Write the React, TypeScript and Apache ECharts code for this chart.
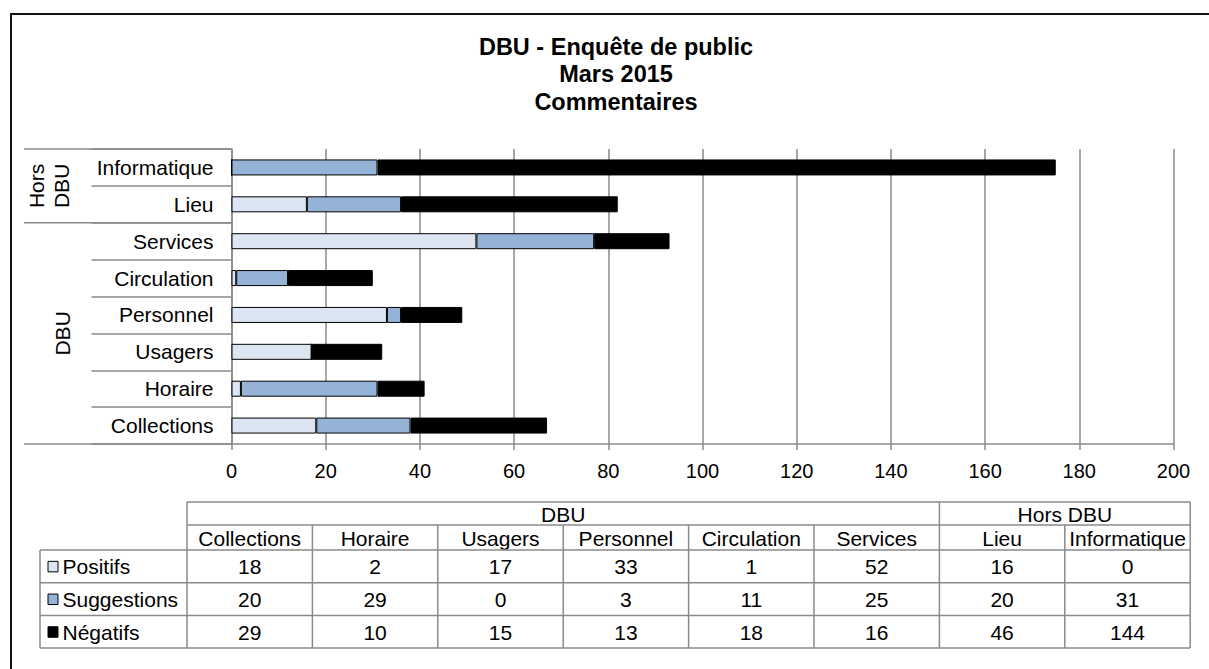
import React, { useEffect, useRef } from "react";
import * as echarts from "echarts";

// ---- Data ----
const categories = ["Collections", "Horaire", "Usagers", "Personnel", "Circulation", "Services", "Lieu", "Informatique"];
const groupLabels = ["DBU", "Hors DBU"];
const groupSizes = [6, 2];
const seriesNames = ["Positifs", "Suggestions", "Négatifs"];
const positifs = [18, 2, 17, 33, 1, 52, 16, 0];
const suggestions = [20, 29, 0, 3, 11, 25, 20, 31];
const negatifs = [29, 10, 15, 13, 18, 16, 46, 144];
const seriesColors = ["#dce6f2", "#95b3d7", "#000000"];
const titleLines = ["DBU - Enquête de public", "Mars 2015", "Commentaires"];
const xMin = 0;
const xMax = 200;
const xInterval = 20;

const FONT = '"Liberation Sans", Arial, Helvetica, sans-serif';
const GRAY = "#8a8a8a";

// layout
const GRID = { left: 231.5, top: 149, width: 942, height: 295 };
const TABLE = { left: 40, labelRight: 187, colW: 125.4, y0: 502, h1: 23, h2: 25, rowH: 32.7 };

function ln(x1: number, y1: number, x2: number, y2: number, stroke = GRAY, w = 1.5) {
  return { type: "line", silent: true, shape: { x1, y1, x2, y2 }, style: { stroke, lineWidth: w } };
}
function txt(x: number, y: number, t: string, align = "center", size = 21) {
  return {
    type: "text",
    silent: true,
    x,
    y,
    style: {
      text: t,
      font: `${size}px ${FONT}`,
      fill: "#000",
      textAlign: align,
      textVerticalAlign: "middle",
    },
  };
}

function buildGraphics() {
  const g: any[] = [];
  // outer frame
  g.push({ type: "rect", silent: true, shape: { x: 11, y: 14, width: 1400, height: 900 }, style: { fill: "none", stroke: "#111", lineWidth: 2 } });

  // multi-level axis group separators & labels
  const n = categories.length;
  const bandH = GRID.height / n;
  const bottom = GRID.top + GRID.height;
  let cum = 0;
  g.push(ln(24, bottom, GRID.left, bottom));
  groupSizes.forEach((sz, gi) => {
    const yStart = bottom - cum * bandH;
    const yEnd = bottom - (cum + sz) * bandH;
    g.push(ln(24, yEnd, GRID.left, yEnd));
    const label = groupLabels[gi].replace(" ", "\n");
    const cx = gi === 0 ? 62 : 49;
    g.push({
      type: "text",
      silent: true,
      x: cx,
      y: (yStart + yEnd) / 2,
      rotation: Math.PI / 2,
      style: { text: label, font: `21px ${FONT}`, fill: "#000", textAlign: "center", textVerticalAlign: "middle", lineHeight: 25 },
    });
    cum += sz;
  });

  // data table
  const cols = categories.length;
  const colX = (i: number) => TABLE.labelRight + i * TABLE.colW;
  const right = colX(cols);
  const yH1 = TABLE.y0;
  const yH2 = yH1 + TABLE.h1;
  const yD = yH2 + TABLE.h2;
  const rowY = (r: number) => yD + r * TABLE.rowH;
  const nRows = seriesNames.length;

  // header row 1
  g.push(ln(TABLE.labelRight, yH1, right, yH1));
  g.push(ln(TABLE.labelRight, yH2, right, yH2));
  let c = 0;
  g.push(ln(colX(0), yH1, colX(0), yH2));
  groupSizes.forEach((sz, gi) => {
    const x0 = colX(c);
    const x1 = colX(c + sz);
    g.push(ln(x1, yH1, x1, yH2));
    g.push(txt((x0 + x1) / 2, (yH1 + yH2) / 2 + 0.5, groupLabels[gi]));
    c += sz;
  });
  // header row 2
  for (let i = 0; i <= cols; i++) g.push(ln(colX(i), yH2, colX(i), yD));
  categories.forEach((cat, i) => g.push(txt((colX(i) + colX(i + 1)) / 2, (yH2 + yD) / 2 + 0.5, cat)));
  // data rows
  for (let r = 0; r <= nRows; r++) g.push(ln(TABLE.left, rowY(r), right, rowY(r)));
  g.push(ln(TABLE.left, yD, TABLE.left, rowY(nRows)));
  for (let i = 0; i <= cols; i++) g.push(ln(colX(i), yD, colX(i), rowY(nRows)));
  const values = [positifs, suggestions, negatifs];
  seriesNames.forEach((name, r) => {
    const cy = (rowY(r) + rowY(r + 1)) / 2;
    g.push({ type: "rect", silent: true, shape: { x: 48, y: cy - 5, width: 10, height: 10.5 }, style: { fill: seriesColors[r], stroke: "#000", lineWidth: 1 } });
    g.push(txt(62.5, cy + 0.5, name, "left"));
    values[r].forEach((v, i) => g.push(txt((colX(i) + colX(i + 1)) / 2, cy + 0.5, String(v))));
  });
  return g;
}

export default function App() {
  const ref = useRef<HTMLDivElement>(null);
  useEffect(() => {
    document.body.style.margin = "0";
    const chart = echarts.init(ref.current!, undefined, { renderer: "svg" });
    const seriesData = [positifs, suggestions, negatifs];
    chart.setOption({
      animation: false,
      backgroundColor: "#fff",
      textStyle: { fontFamily: FONT },
      title: {
        text: titleLines.join("\n"),
        left: 616,
        top: 33,
        textAlign: "center",
        padding: 0,
        textStyle: { fontFamily: FONT, fontSize: 23.5, fontWeight: "bold", color: "#000", lineHeight: 27.5 },
      },
      grid: { ...GRID, containLabel: false, outerBoundsMode: "none" },
      xAxis: {
        type: "value",
        min: xMin,
        max: xMax,
        interval: xInterval,
        axisLine: { show: true, lineStyle: { color: GRAY, width: 1.5 } },
        axisTick: { show: true, length: 6, lineStyle: { color: GRAY, width: 1.5 } },
        splitLine: { show: true, lineStyle: { color: GRAY, width: 1.5 } },
        axisLabel: { fontSize: 20, color: "#000", margin: 17, fontFamily: FONT },
      },
      yAxis: {
        type: "category",
        data: categories,
        axisLine: { show: true, lineStyle: { color: GRAY, width: 1.5 } },
        axisTick: { show: true, length: 140, lineStyle: { color: GRAY, width: 1.5 } },
        axisLabel: { fontSize: 21, color: "#000", margin: 18, fontFamily: FONT },
      },
      series: seriesNames.map((name, i) => ({
        name,
        type: "bar",
        stack: "total",
        barWidth: 16,
        data: seriesData[i],
        itemStyle: { color: seriesColors[i], borderColor: "#000", borderWidth: 1 },
      })),
      graphic: buildGraphics(),
    });
    return () => chart.dispose();
  }, []);
  return <div ref={ref} style={{ width: 1209, height: 669 }} />;
}
